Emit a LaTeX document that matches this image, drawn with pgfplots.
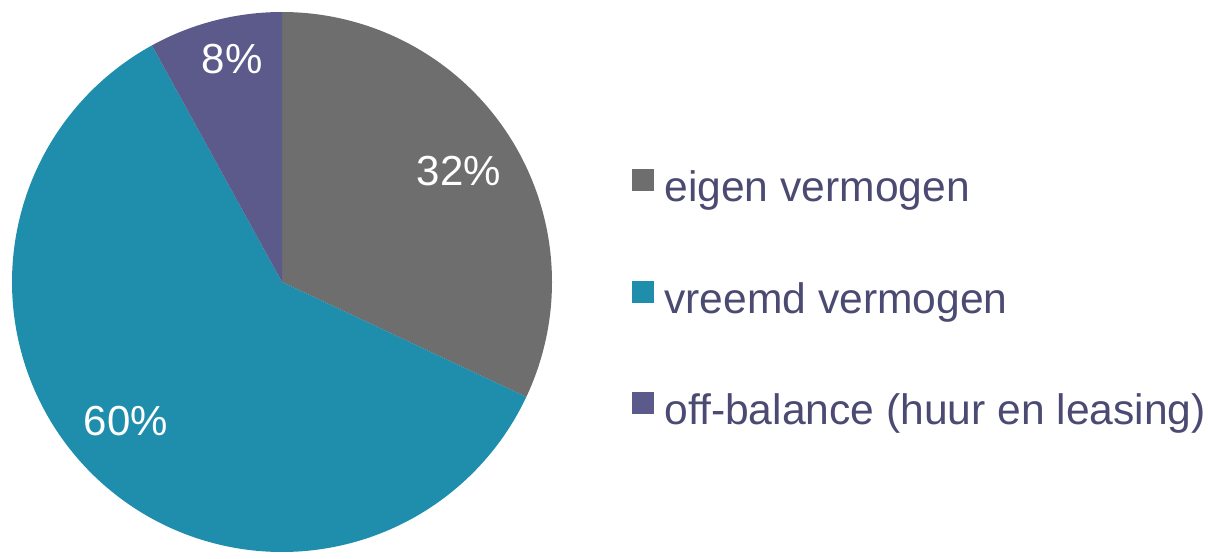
\documentclass[border=0pt]{standalone}
\usepackage{fontspec}
\setmainfont{Liberation Sans}
\usepackage{pgfplots}
\usepackage{pgfplotstable}
\pgfplotsset{compat=1.18}

\definecolor{pieGray}{HTML}{6E6E6E}
\definecolor{pieTeal}{HTML}{1F8DAC}
\definecolor{pieViolet}{HTML}{5B5A8B}
\definecolor{legText}{HTML}{4A4A72}

% share of each part (percent)
\pgfplotstableread[col sep=comma]{
label,value
eigen vermogen,32
vreemd vermogen,60
off-balance (huur en leasing),8
}\piedata

\pgfplotstablegetelem{0}{value}\of\piedata \let\vA\pgfplotsretval
\pgfplotstablegetelem{1}{value}\of\piedata \let\vB\pgfplotsretval
\pgfplotstablegetelem{2}{value}\of\piedata \let\vC\pgfplotsretval

% slice angles, clockwise from the top
\pgfmathsetmacro\aA{90}
\pgfmathsetmacro\aB{\aA-3.6*\vA}
\pgfmathsetmacro\aC{\aB-3.6*\vB}
\pgfmathsetmacro\aD{\aC-3.6*\vC}

\def\cx{282}
\def\cy{276}
\def\rr{270}

\begin{document}
\begin{tikzpicture}
\begin{axis}[
    scale only axis,
    width=604pt, height=279pt,
    xmin=0, xmax=1208, ymin=0, ymax=558,
    hide axis,
    clip=false,
    legend style={
        at={(axis cs:632,389)}, anchor=north west,
        draw=none, fill=none, inner sep=0pt,
        row sep=35pt, column sep=5pt,
        font=\fontsize{21.3}{25}\selectfont, text=legText,
        nodes={inner sep=0pt, text height=15pt, text depth=4.5pt},
    },
    legend cell align=left,
    legend image code/.code={\path[#1,draw=none] (0pt,0pt) rectangle (11pt,11pt);},
]
\path (axis cs:0,0) rectangle (axis cs:1208,558);

\addplot[fill=pieGray, draw=none, domain=\aB:\aA, samples=120, variable=\t]
    ({\cx+\rr*cos(\t)}, {\cy+\rr*sin(\t)}) -- (axis cs:\cx,\cy) -- cycle;
\addlegendentry{eigen vermogen}

\addplot[fill=pieTeal, draw=none, domain=\aC:\aB, samples=200, variable=\t]
    ({\cx+\rr*cos(\t)}, {\cy+\rr*sin(\t)}) -- (axis cs:\cx,\cy) -- cycle;
\addlegendentry{vreemd vermogen}

\addplot[fill=pieViolet, draw=none, domain=\aD:\aC, samples=40, variable=\t]
    ({\cx+\rr*cos(\t)}, {\cy+\rr*sin(\t)}) -- (axis cs:\cx,\cy) -- cycle;
\addlegendentry{off-balance (huur en leasing)}

\node[text=white, font=\fontsize{21}{25}\selectfont] at (axis cs:459,387) {32\%};
\node[text=white, font=\fontsize{21}{25}\selectfont] at (axis cs:126,137) {60\%};
\node[text=white, font=\fontsize{21}{25}\selectfont] at (axis cs:232,499) {8\%};
\end{axis}
\end{tikzpicture}
\end{document}
